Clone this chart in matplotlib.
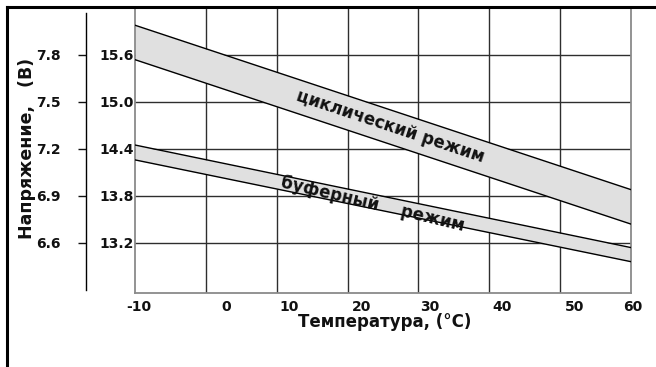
import matplotlib
matplotlib.use("Agg")
import matplotlib.pyplot as plt
import matplotlib.transforms as mtransforms
from matplotlib.lines import Line2D

# данные графика
temps = [-10, 60]
cyc_upper = [15.98, 13.88]
cyc_lower = [15.54, 13.44]
buf_upper = [14.45, 13.14]
buf_lower = [14.26, 12.96]

x_ticks = [-10, 0, 10, 20, 30, 40, 50, 60]
y_ticks = [13.2, 13.8, 14.4, 15.0, 15.6]
y_ticks_cell = [6.6, 6.9, 7.2, 7.5, 7.8]

plt.rcParams["font.family"] = ["DejaVu Sans"]
plt.rcParams["font.weight"] = "bold"

fig = plt.figure(figsize=(6.56, 3.67), dpi=100)
ax = fig.add_axes([135 / 656, 1 - 293 / 367, 496 / 656, 285 / 367])

band_color = "#e0e0e0"
grid_color = "#2e2e2e"
frame_color = "#8a8a8a"
text_color = "#111111"

# полосы режимов
ax.fill_between(temps, cyc_lower, cyc_upper, color=band_color, zorder=2, lw=0)
ax.plot(temps, cyc_upper, color="black", lw=1, zorder=3)
ax.plot(temps, cyc_lower, color="black", lw=1, zorder=3)
ax.fill_between(temps, buf_lower, buf_upper, color=band_color, zorder=2, lw=0)
ax.plot(temps, buf_upper, color="black", lw=1, zorder=3)
ax.plot(temps, buf_lower, color="black", lw=1, zorder=3)

ax.set_xlim(-10, 60)
ax.set_ylim(12.56, 16.2)

# сетка
for xv in x_ticks[1:-1]:
    ax.axvline(xv, color=grid_color, lw=1, zorder=1)
for yv in y_ticks:
    ax.axhline(yv, color=grid_color, lw=1, zorder=1)

for s in ["left", "right", "bottom"]:
    ax.spines[s].set_color(frame_color)
    ax.spines[s].set_linewidth(1.3)
ax.spines["top"].set_visible(False)

ax.set_xticks(x_ticks)
ax.set_xticklabels([str(v) for v in x_ticks])
ax.set_yticks(y_ticks)
ax.set_yticklabels(["%.1f" % v for v in y_ticks])
ax.tick_params(axis="both", length=0, labelsize=10, colors=text_color)
ax.tick_params(axis="x", pad=5)
ax.tick_params(axis="y", pad=1)

# подписи оси X в оригинале сдвинуты вправо
label_shift = [4, 20, 12, 14, 11, 13, 14, 2]
for lab, dx in zip(ax.get_xticklabels(), label_shift):
    lab.set_transform(lab.get_transform() + mtransforms.ScaledTranslation(dx / 100, 0, fig.dpi_scale_trans))

# вторая шкала (на элемент)
sec = ax.secondary_yaxis(-49 / 496, functions=(lambda v: v / 2, lambda v: v * 2))
sec.set_yticks(y_ticks_cell)
sec.set_yticklabels(["%.1f" % v for v in y_ticks_cell])
sec.tick_params(axis="y", length=6, width=1, colors=text_color, labelsize=10, pad=12)
sec.spines["left"].set_color("black")
sec.spines["left"].set_linewidth(1)
sec.spines["left"].set_bounds(6.30, 8.07)

# подписи режимов
ax.text(26.0, 14.68, "циклический режим", rotation=-18.4, ha="center", va="center",
        fontsize=12, fontweight="bold", color=text_color, zorder=4, rotation_mode="anchor")
ax.text(23.5, 13.70, "буферный    режим", rotation=-13.5, ha="center", va="center",
        fontsize=12, fontweight="bold", color=text_color, zorder=4, rotation_mode="anchor")

fig.text(385 / 656, 1 - 322 / 367, "Температура, (°C)", ha="center", va="center",
         fontsize=12, fontweight="bold", color=text_color)
fig.text(27 / 656, 1 - 148 / 367, "Напряжение,   (В)", rotation=90, ha="center", va="center",
         fontsize=12.5, fontweight="bold", color=text_color)

# внешняя рамка
fig.add_artist(Line2D([7 / 656, 1], [1 - 7 / 367, 1 - 7 / 367], color="black", lw=2.2))
fig.add_artist(Line2D([7 / 656, 7 / 656], [0, 1 - 7 / 367], color="black", lw=2.2))

fig.savefig("out.png", dpi=100)
